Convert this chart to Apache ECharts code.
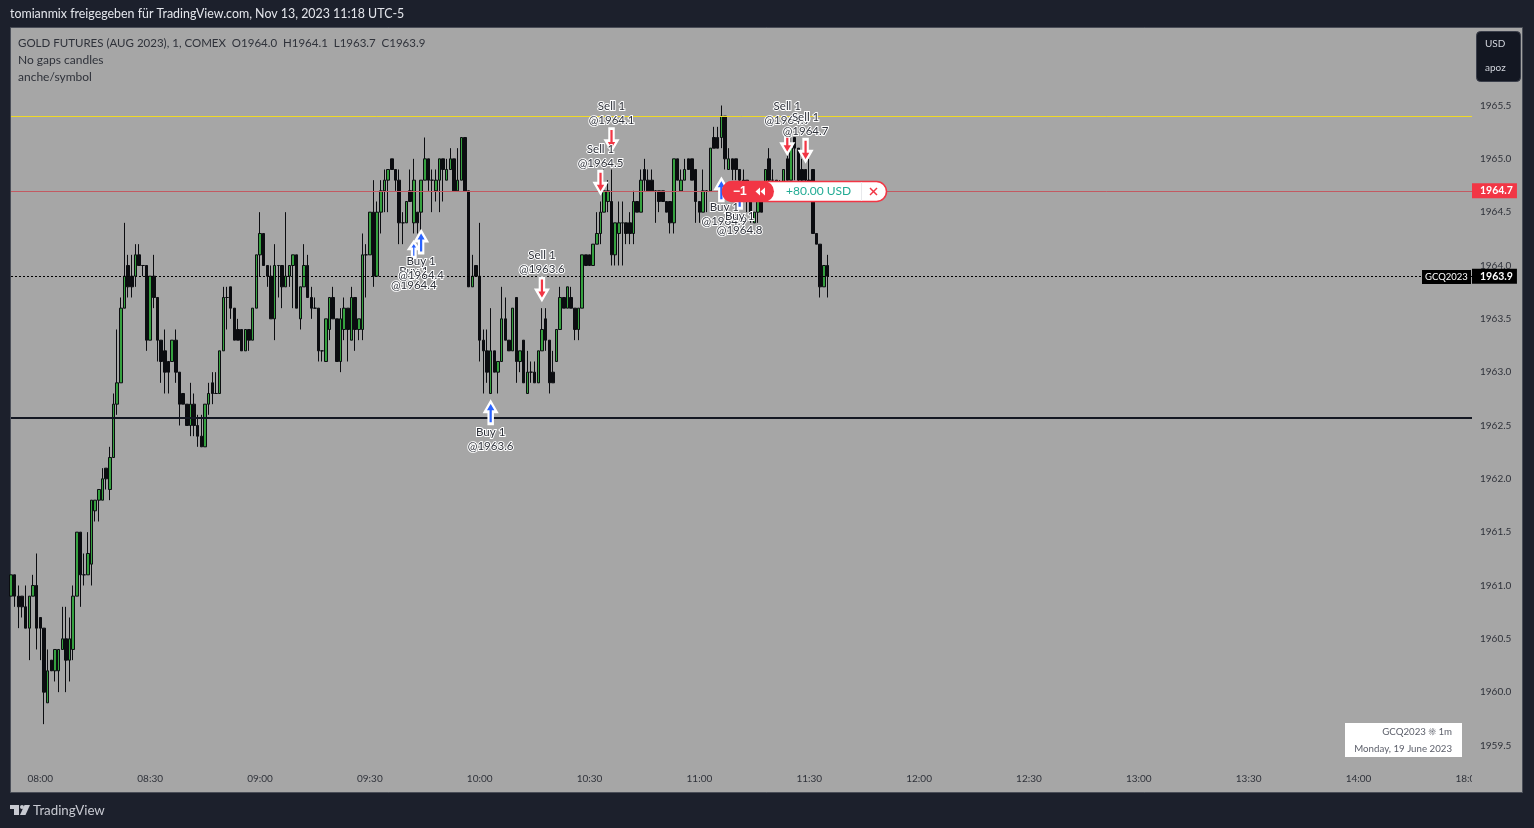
<!DOCTYPE html>
<html>
<head>
<meta charset="utf-8">
<title>GCQ2023 1m</title>
<script src="https://cdn.jsdelivr.net/npm/echarts@6/dist/echarts.min.js"></script>
<style>
    html, body { margin: 0; padding: 0; background: #1c202c; }
    #chart { width: 1534px; height: 828px; }
</style>
</head>
<body>
<div id="chart"></div>
<script>
// ------------------------------------------------------------------------
// Data (one minute per bar, first bar is 07:52)
// ------------------------------------------------------------------------
const opens = [
    1960.9,1961.1,1960.9,1960.9,1960.8,1960.6,1960.9,1961.0,1960.7,1960.6,
    1959.9,1960.3,1960.2,1960.2,1960.4,1960.5,1960.3,1960.4,1960.9,1961.5,
    1961.1,1961.1,1961.2,1961.7,1961.8,1961.8,1962.1,1961.9,1962.2,1962.7,
    1962.9,1963.6,1964.0,1963.9,1963.9,1964.1,1964.0,1964.0,1963.3,1963.9,
    1963.7,1963.3,1963.2,1963.1,1963.1,1963.3,1963.0,1962.8,1962.7,1962.5,
    1962.7,1962.5,1962.4,1962.3,1962.7,1962.9,1962.8,1962.8,1963.2,1963.7,
    1963.8,1963.6,1963.4,1963.4,1963.2,1963.4,1963.3,1963.6,1964.1,1964.3,
    1964.0,1963.9,1963.5,1964.0,1964.0,1963.8,1963.9,1964.0,1964.1,1963.5,
    1963.8,1964.0,1963.7,1963.6,1963.6,1963.2,1963.1,1963.4,1963.7,1963.5,
    1963.1,1963.4,1963.6,1963.3,1963.7,1963.4,1963.4,1964.1,1964.1,1964.5,
    1963.9,1964.5,1964.7,1964.8,1965.0,1964.9,1964.8,1964.4,1964.4,1964.7,
    1964.4,1964.5,1964.5,1964.8,1965.0,1964.8,1964.7,1964.8,1965.0,1964.8,
    1964.9,1965.0,1964.7,1964.8,1965.2,1964.7,1963.8,1964.0,1963.9,1963.3,
    1963.2,1962.8,1963.2,1963.0,1963.1,1963.5,1963.3,1963.2,1963.7,1963.1,
    1963.3,1962.8,1963.0,1963.0,1962.9,1963.2,1963.5,1963.3,1963.0,1963.1,
    1963.4,1963.7,1963.6,1963.7,1963.6,1963.4,1963.6,1964.1,1964.1,1964.0,
    1964.2,1964.3,1964.5,1964.6,1964.6,1964.1,1964.3,1964.4,1964.4,1964.4,
    1964.3,1964.6,1964.5,1964.9,1964.8,1964.8,1964.7,1964.7,1964.7,1964.6,
    1964.6,1964.4,1965.0,1964.7,1964.8,1965.0,1965.0,1964.9,1964.6,1964.5,
    1964.7,1964.7,1965.2,1965.2,1965.2,1965.4,1964.9,1965.0,1965.0,1964.9,
    1964.8,1964.8,1964.6,1964.4,1964.5,1964.6,1964.7,1965.0,1964.8,1964.8,
    1964.7,1964.7,1965.0,1964.8,1965.2,1965.1,1964.9,1964.9,1964.8,1964.9,
    1964.3,1964.2,1963.8,1964.0
];
const highs = [
    1961.1,1961.1,1961.0,1960.9,1961.0,1960.9,1961.1,1961.3,1960.7,1960.6,
    1960.4,1960.3,1960.4,1960.4,1960.8,1960.8,1960.7,1961.0,1961.5,1961.5,
    1961.3,1961.5,1961.8,1961.8,1961.9,1962.1,1962.1,1962.3,1962.8,1963.4,
    1963.7,1964.4,1964.1,1964.1,1964.2,1964.2,1964.0,1964.0,1963.9,1964.1,
    1963.7,1963.3,1963.4,1963.1,1963.3,1963.4,1963.0,1962.8,1962.7,1962.9,
    1962.8,1962.6,1962.6,1962.7,1962.9,1963.0,1963.0,1963.2,1963.8,1963.8,
    1963.8,1963.6,1963.5,1963.4,1963.4,1963.4,1963.6,1964.1,1964.5,1964.3,
    1964.0,1964.0,1964.2,1964.0,1964.0,1964.5,1964.0,1964.1,1964.1,1963.8,
    1964.2,1964.1,1963.8,1963.7,1963.6,1963.2,1963.5,1963.7,1963.8,1963.5,
    1963.6,1963.7,1963.6,1963.8,1963.7,1963.5,1964.3,1964.2,1964.5,1964.8,
    1964.6,1964.8,1964.9,1964.9,1965.0,1964.9,1964.9,1964.5,1964.6,1964.9,
    1965.0,1964.5,1964.8,1965.2,1965.0,1964.9,1964.9,1965.0,1965.0,1965.0,
    1965.1,1965.0,1965.1,1965.2,1965.2,1964.7,1964.1,1964.0,1964.4,1963.4,
    1963.4,1963.6,1963.2,1963.1,1963.8,1963.7,1963.3,1963.6,1963.7,1963.2,
    1963.3,1963.2,1963.1,1963.1,1963.2,1963.6,1963.6,1963.3,1963.2,1963.4,
    1963.8,1963.7,1963.8,1963.8,1963.6,1963.6,1964.1,1964.1,1964.1,1964.2,
    1964.5,1964.6,1964.9,1964.8,1964.9,1964.4,1964.6,1964.6,1964.4,1964.5,
    1964.7,1964.6,1964.9,1965.0,1964.9,1964.9,1964.7,1964.7,1964.7,1964.6,
    1964.6,1965.0,1965.0,1964.9,1965.0,1965.0,1965.0,1964.9,1964.6,1964.9,
    1964.7,1965.1,1965.3,1965.3,1965.5,1965.4,1965.1,1965.0,1965.0,1964.9,
    1964.9,1964.8,1964.6,1964.5,1964.7,1964.7,1964.9,1965.1,1964.9,1964.8,
    1964.8,1964.9,1965.1,1965.2,1965.2,1965.1,1965.0,1964.9,1965.0,1964.9,
    1964.3,1964.2,1964.0,1964.1
];
const lows = [
    1960.9,1960.8,1960.6,1960.7,1960.6,1960.3,1960.9,1960.4,1960.3,1959.7,
    1959.9,1960.2,1960.1,1960.0,1960.4,1960.0,1960.1,1960.3,1960.9,1960.8,
    1961.0,1961.1,1961.0,1961.6,1961.6,1961.8,1961.9,1961.8,1962.2,1962.6,
    1962.9,1963.6,1963.7,1963.7,1963.8,1964.0,1963.9,1963.2,1963.3,1963.6,
    1963.1,1962.9,1962.8,1962.8,1963.1,1962.9,1962.5,1962.7,1962.5,1962.4,
    1962.4,1962.3,1962.3,1962.3,1962.6,1962.7,1962.8,1962.8,1963.2,1963.4,
    1963.5,1963.3,1963.3,1963.2,1963.2,1963.2,1963.3,1963.6,1963.9,1964.0,
    1963.8,1963.5,1963.3,1963.7,1963.6,1963.8,1963.8,1963.6,1963.6,1963.4,
    1963.8,1963.7,1963.5,1963.6,1963.1,1963.1,1963.1,1963.3,1963.5,1963.1,
    1963.0,1963.3,1963.1,1963.3,1963.2,1963.3,1963.3,1963.7,1964.1,1963.8,
    1963.9,1964.3,1964.5,1964.5,1964.9,1964.7,1964.2,1964.2,1964.4,1964.6,
    1964.3,1964.3,1964.3,1964.8,1964.7,1964.5,1964.6,1964.5,1964.6,1964.8,
    1964.9,1964.7,1964.7,1964.8,1964.7,1963.8,1963.8,1963.9,1963.1,1962.8,
    1962.9,1962.8,1963.0,1962.8,1963.1,1963.3,1963.2,1963.2,1962.9,1963.0,
    1962.9,1962.8,1962.9,1962.9,1962.9,1963.2,1963.2,1962.8,1962.9,1963.1,
    1963.4,1963.6,1963.6,1963.6,1963.3,1963.3,1963.6,1964.0,1964.0,1964.0,
    1964.2,1964.2,1964.5,1964.5,1964.0,1964.0,1964.0,1964.0,1964.2,1964.2,
    1964.2,1964.5,1964.5,1964.7,1964.7,1964.7,1964.4,1964.5,1964.6,1964.5,
    1964.3,1964.3,1964.8,1964.7,1964.8,1964.9,1964.8,1964.4,1964.4,1964.5,
    1964.5,1964.7,1965.1,1965.1,1965.1,1964.9,1964.9,1964.8,1964.8,1964.7,
    1964.6,1964.5,1964.4,1964.4,1964.4,1964.5,1964.7,1964.7,1964.7,1964.6,
    1964.6,1964.7,1964.8,1964.8,1964.8,1964.7,1964.7,1964.7,1964.7,1964.3,
    1964.2,1963.7,1963.8,1963.7
];
const closes = [
    1961.1,1960.9,1960.8,1960.8,1960.6,1960.9,1961.0,1960.6,1960.6,1960.0,
    1960.2,1960.2,1960.4,1960.4,1960.5,1960.3,1960.5,1960.9,1961.5,1961.1,
    1961.1,1961.3,1961.8,1961.8,1961.9,1962.0,1962.0,1962.2,1962.7,1962.9,
    1963.6,1963.9,1963.8,1963.8,1964.1,1964.0,1964.0,1963.3,1963.9,1963.7,
    1963.3,1963.1,1963.0,1963.0,1963.3,1963.0,1962.7,1962.7,1962.5,1962.7,
    1962.5,1962.4,1962.3,1962.7,1962.8,1962.8,1962.8,1963.2,1963.7,1963.7,
    1963.6,1963.3,1963.3,1963.2,1963.4,1963.3,1963.6,1964.1,1964.3,1964.0,
    1963.9,1963.5,1964.0,1964.0,1963.8,1963.9,1964.0,1964.1,1963.6,1963.8,
    1964.0,1963.7,1963.6,1963.6,1963.2,1963.2,1963.5,1963.7,1963.5,1963.1,
    1963.5,1963.6,1963.4,1963.7,1963.4,1963.5,1964.1,1964.1,1964.5,1963.9,
    1964.5,1964.7,1964.8,1964.9,1964.9,1964.8,1964.4,1964.4,1964.6,1964.6,
    1964.8,1964.4,1964.8,1965.0,1964.8,1964.8,1964.8,1965.0,1964.9,1964.9,
    1965.0,1964.7,1964.8,1965.2,1964.7,1963.8,1963.9,1963.9,1963.3,1963.2,
    1963.0,1963.2,1963.0,1963.1,1963.5,1963.3,1963.2,1963.6,1963.1,1963.2,
    1962.9,1963.0,1963.0,1962.9,1963.2,1963.4,1963.3,1962.9,1962.9,1963.4,
    1963.7,1963.6,1963.8,1963.6,1963.4,1963.6,1964.1,1964.0,1964.0,1964.2,
    1964.3,1964.5,1964.7,1964.7,1964.1,1964.4,1964.4,1964.4,1964.3,1964.3,
    1964.6,1964.5,1964.8,1964.8,1964.7,1964.7,1964.7,1964.6,1964.6,1964.5,
    1964.4,1965.0,1964.8,1964.8,1964.9,1964.9,1964.8,1964.6,1964.5,1964.7,
    1964.7,1965.1,1965.1,1965.1,1965.4,1965.0,1965.0,1964.9,1964.9,1964.8,
    1964.7,1964.6,1964.5,1964.5,1964.6,1964.5,1964.9,1964.8,1964.8,1964.7,
    1964.6,1964.9,1964.8,1965.1,1965.1,1964.8,1964.8,1964.8,1964.7,1964.3,
    1964.2,1963.8,1964.0,1963.9
];

const yTickValues = [1959.5,1960,1960.5,1961,1961.5,1962,1962.5,1963,1963.5,1964,1964.5,1965,1965.5];
const xTickLabels = ['08:00','08:30','09:00','09:30','10:00','10:30','11:00','11:30','12:00','12:30','13:00','13:30','14:00','18:00'];

// price levels
const targetLevel = 1965.4;     // yellow
const positionLevel = 1964.7;   // open position
const closeLevel = 1963.9;      // last price
const supportLevel = 1962.57;   // black

// trade marks (bar index, price where the arrow is centred, text)
const buyBars = [110, 112, 131, 194, 199];
const buyPrices = [1964.15, 1964.22, 1962.62, 1964.71, 1964.64];
const buyTexts = ['Buy 1\n@1964.4', 'Buy 1\n@1964.4', 'Buy 1\n@1963.6', 'Buy 1\n@1964.9', 'Buy 1\n@1964.8'];
const sellBars = [145, 161, 164, 212, 217];
const sellPrices = [1963.78, 1964.78, 1965.18, 1965.15, 1965.08];
const sellTexts = ['Sell 1\n@1963.6', 'Sell 1\n@1964.5', 'Sell 1\n@1964.1', 'Sell 1\n@1964.9', 'Sell 1\n@1964.7'];

// minute labels, session jumps to 18:00 after 14:29
const categories = [];
for (let m = 7 * 60 + 52; m < 14 * 60 + 30; m++) {
    categories.push(String(Math.floor(m / 60)).padStart(2, '0') + ':' + String(m % 60).padStart(2, '0'));
}
categories.push('18:00', '18:01');

// ------------------------------------------------------------------------
// Chart
// ------------------------------------------------------------------------
const FONT = 'Lato, "Noto Sans", sans-serif';
const ARROW = 'path://M8 0 L16 10 L11 10 L11 22 L5 22 L5 10 L0 10 Z';
const INK = '#2f323a';

const candles = opens.map((o, i) => [o, closes[i], lows[i], highs[i]]);

// tweaks: per mark extras (the smaller arrow, the label pushed aside), keyed by position in the arrays
function tradeMarks(bars, prices, texts, color, rotate, labelPos, tweaks) {
    return {
        type: 'scatter',
        z: 6,
        symbol: ARROW,
        symbolKeepAspect: true,
        symbolSize: [16, 22],
        symbolRotate: rotate,
        itemStyle: { color: color, borderColor: '#ffffff', borderWidth: 2.5, opacity: 1 },
        label: {
            show: true,
            position: labelPos,
            distance: 0,
            fontFamily: FONT,
            fontSize: 11.5,
            lineHeight: 14,
            align: 'center',
            color: INK,
            textBorderColor: '#ffffff',
            textBorderWidth: 2,
            formatter: p => p.data.text
        },
        data: bars.map((b, i) => Object.assign({ value: [b, prices[i]], text: texts[i] }, (tweaks || {})[i]))
    };
}

function priceBox(value, bg) {
    return {
        show: true,
        position: 'end',
        distance: 0,
        formatter: value.toFixed(1),
        color: '#ffffff',
        fontFamily: FONT,
        fontSize: 10.5,
        fontWeight: 'bold',
        backgroundColor: bg,
        padding: [2, 4, 2, 8]
    };
}

function txt(x, y, text, color, size, extra) {
    return {
        type: 'text', z: 50, x: x, y: y,
        style: Object.assign({ text: text, fill: color, font: size + 'px ' + FONT, textVerticalAlign: 'middle' }, extra || {})
    };
}

const chrome = [
    // pane behind everything
    { type: 'rect', z: -10, shape: { x: 10.5, y: 27.5, width: 1512, height: 765 }, style: { fill: '#a6a6a6', stroke: '#4a4e58', lineWidth: 1 } },

    // header and legend
    txt(10, 14, 'tomianmix freigegeben für TradingView.com, Nov 13, 2023 11:18 UTC-5', '#e4e6ec', 12.4),
    txt(18, 43, 'GOLD FUTURES (AUG 2023), 1, COMEX  O1964.0  H1964.1  L1963.7  C1963.9', INK, 11.5),
    txt(18, 60, 'No gaps candles', INK, 12),
    txt(18, 77, 'anche/symbol', INK, 12),

    // USD / unit box
    { type: 'rect', z: 50, shape: { x: 1476.5, y: 31.5, width: 44, height: 50, r: 4 }, style: { fill: '#131722', stroke: '#3a3e4a', lineWidth: 1 } },
    txt(1485, 44, 'USD', '#d1d4dc', 10),
    txt(1485, 68, 'apoz', '#d1d4dc', 10),

    // hides the end of the cut off axis label
    { type: 'rect', z: 40, shape: { x: 1472, y: 771, width: 20, height: 16 }, style: { fill: '#a6a6a6' } },

    // symbol tag in front of last price
    { type: 'rect', z: 50, shape: { x: 1422, y: 270, width: 49, height: 14 }, style: { fill: '#000000' } },
    txt(1425, 277, 'GCQ2023', '#ffffff', 9.5),

    // open position pill
    { type: 'rect', z: 60, shape: { x: 722.5, y: 181.5, width: 164, height: 20, r: 10 }, style: { fill: '#ffffff', stroke: '#f23645', lineWidth: 1.5 } },
    { type: 'rect', z: 61, shape: { x: 722, y: 181, width: 52, height: 21, r: 10.5 }, style: { fill: '#f23645' } },
    Object.assign(txt(733, 191.5, '−1', '#ffffff', 14, { fontWeight: 'bold' }), { z: 62 }),
    { type: 'polygon', z: 62, shape: { points: [[760, 187.5], [760, 195.5], [755.5, 191.5]] }, style: { fill: '#ffffff' } },
    { type: 'polygon', z: 62, shape: { points: [[765, 187.5], [765, 195.5], [760.5, 191.5]] }, style: { fill: '#ffffff' } },
    Object.assign(txt(786, 191.5, '+80.00 USD', '#22ab94', 12), { z: 62 }),
    { type: 'line', z: 62, shape: { x1: 861.5, y1: 182, x2: 861.5, y2: 201 }, style: { stroke: '#e8e9ec', lineWidth: 1 } },
    { type: 'line', z: 62, shape: { x1: 870, y1: 188, x2: 877, y2: 195 }, style: { stroke: '#f23645', lineWidth: 1.5 } },
    { type: 'line', z: 62, shape: { x1: 877, y1: 188, x2: 870, y2: 195 }, style: { stroke: '#f23645', lineWidth: 1.5 } },

    // watermark card
    { type: 'rect', z: 50, shape: { x: 1345, y: 723, width: 117, height: 34 }, style: { fill: '#ffffff' } },
    txt(1452, 732, 'GCQ2023 ☀ 1m', '#5d606b', 9.7, { textAlign: 'right' }),
    txt(1452, 749, 'Monday, 19 June 2023', '#5d606b', 9.7, { textAlign: 'right' }),

    // footer logo
    { type: 'polygon', z: 50, shape: { points: [[10, 805], [19, 805], [19, 815], [14, 815], [14, 809], [10, 809]] }, style: { fill: '#c8cad2' } },
    { type: 'circle', z: 50, shape: { cx: 22, cy: 807, r: 2 }, style: { fill: '#c8cad2' } },
    { type: 'polygon', z: 50, shape: { points: [[24.5, 805], [30, 805], [25.5, 815], [20, 815]] }, style: { fill: '#c8cad2' } },
    txt(33, 810.5, 'TradingView', '#c8cad2', 13.3)
];

const option = {
    animation: false,
    backgroundColor: '#1c202c',
    grid: { left: 11, right: 62, top: 27, bottom: 63 },
    graphic: { elements: chrome },
    xAxis: {
        type: 'category',
        data: categories,
        boundaryGap: false,
        axisLine: { show: false },
        axisTick: { show: false },
        splitLine: { show: false },
        axisLabel: {
            color: INK,
            fontFamily: FONT,
            fontSize: 10,
            margin: 9,
            hideOverlap: false,
            interval: (i, v) => xTickLabels.includes(v)
        }
    },
    yAxis: {
        type: 'value',
        position: 'right',
        min: 1959.317,
        max: 1966.236,
        axisLine: { show: false },
        axisTick: { show: false },
        splitLine: { show: false },
        axisLabel: {
            customValues: yTickValues,
            color: INK,
            fontFamily: FONT,
            fontSize: 10,
            margin: 8,
            padding: [2, 0, 0, 0],
            formatter: v => v.toFixed(1)
        }
    },
    series: [
        {
            type: 'candlestick',
            z: 3,
            barWidth: 3,
            itemStyle: {
                color: '#35a13f',
                color0: '#0b0c10',
                borderColor: '#0b0c10',
                borderColor0: '#0b0c10',
                borderWidth: 1
            },
            data: candles,
            markLine: {
                silent: true,
                symbol: 'none',
                z: 5,
                animation: false,
                label: { show: false },
                data: [
                    { yAxis: targetLevel, lineStyle: { color: '#f0d925', width: 1, type: 'solid' } },
                    { yAxis: positionLevel, lineStyle: { color: '#c25a62', width: 1, type: 'solid' }, label: priceBox(positionLevel, '#f23645') },
                    { yAxis: closeLevel, lineStyle: { color: '#000000', width: 1, type: [2, 2] }, label: priceBox(closeLevel, '#000000') },
                    { yAxis: supportLevel, lineStyle: { color: '#131722', width: 2, type: 'solid' } }
                ]
            }
        },
        tradeMarks(buyBars, buyPrices, buyTexts, '#2962ff', 0, 'bottom', {
            0: { symbolSize: [13, 15], label: { distance: 6 } },
            3: { label: { offset: [3, -2] } }
        }),
        tradeMarks(sellBars, sellPrices, sellTexts, '#f23645', 180, 'top', {
            3: { label: { distance: 3 } }
        })
    ]
};

const myChart = echarts.init(document.getElementById('chart'));
myChart.setOption(option);
</script>
</body>
</html>
